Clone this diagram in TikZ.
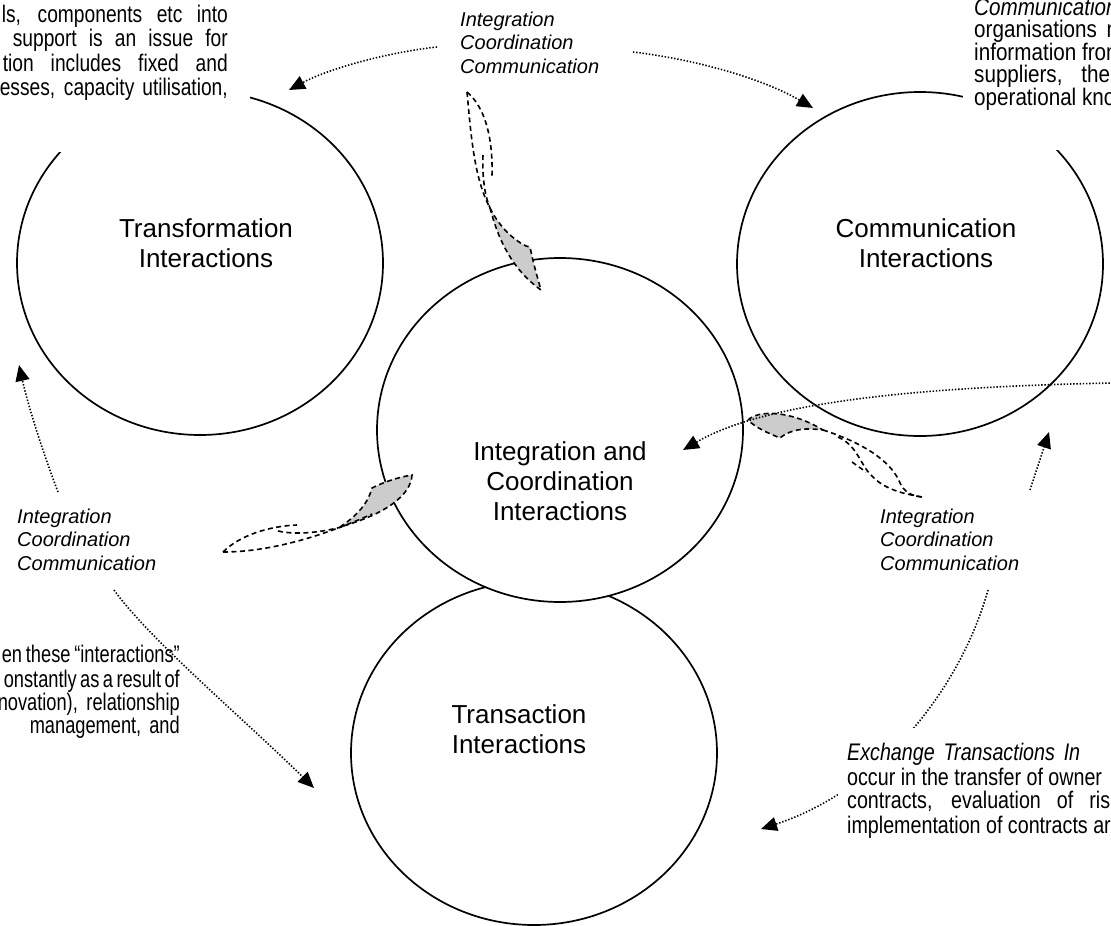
\documentclass[tikz,border=0pt]{standalone}
\usepackage{fontspec}
\setmainfont{Liberation Sans}
\newfontfamily\nfTR[FakeStretch=0.86]{Liberation Sans}
\newfontfamily\nfTL[FakeStretch=0.80]{Liberation Sans}
\newfontfamily\nfBL[FakeStretch=0.76]{Liberation Sans}
\newfontfamily\nfEX[FakeStretch=0.82]{Liberation Sans}
\usetikzlibrary{arrows.meta,shapes.geometric}
\begin{document}
\begin{tikzpicture}[x=1pt,y=-1pt,
  circ/.style={draw, ellipse, line width=1.7pt, minimum width=366pt, minimum height=344pt, inner sep=0pt},
  clab/.style={font=\fontsize{26}{30}\selectfont, align=center, inner sep=0pt, anchor=base},
  ilab/.style={font=\fontsize{20}{23.5}\selectfont\itshape, align=left, inner sep=0pt, anchor=base west},
  bodyTR/.style={font=\nfTR\fontsize{24}{24}\selectfont, inner sep=0pt, anchor=base west},
  bodyTL/.style={font=\nfTL\fontsize{24}{24}\selectfont, inner sep=0pt, anchor=base east},
  bodyBL/.style={font=\nfBL\fontsize{24}{24}\selectfont, inner sep=0pt, anchor=base east},
  bodyEX/.style={font=\nfEX\fontsize{24}{24}\selectfont, inner sep=0pt, anchor=base west},
  dots/.style={line width=1.6pt, dash pattern=on 1.4pt off 1.8pt, -{Triangle[length=16pt,width=14pt]}},
  blob/.style={draw, line width=1.6pt, dash pattern=on 5pt off 3.5pt, fill=black!20},
  bline/.style={draw, line width=1.6pt, dash pattern=on 5pt off 3.5pt},
  wbox/.style={fill=white}
]
\useasboundingbox (0,0) rectangle (1111,926);
\clip (0,0) rectangle (1111,926);

% circles
\node[circ] (transf) at (200,263) {};
\node[circ] (comm) at (920,264) {};
\node[circ] (trans) at (534,753) {};
\node[circ, fill=white] (integ) at (560,430) {};

% circle labels (anchor = baseline of last line)
\node[clab] (transfl) at (206,267) {Transformation\\Interactions};
\node[clab] (comml) at (926,267) {Communication\\Interactions};
\node[clab] (integl) at (560,520) {Integration and\\Coordination\\Interactions};
\node[clab] (transl) at (519,753) {Transaction\\Interactions};

% white text boxes at top
\path[wbox] (0,0) rectangle (250,152);
\path[wbox] (963,0) rectangle (1111,150);

% top-left paragraph
\node[bodyTL] (tl1) at (228,22) {\makebox[226pt][s]{ls, components etc into}};
\node[bodyTL] (tl2) at (228,46) {\makebox[215pt][s]{support is an issue for}};
\node[bodyTL] (tl3) at (228,71) {\makebox[225pt][s]{tion includes fixed and}};
\node[bodyTL] (tl4) at (228,95) {\makebox[228pt][s]{esses, capacity utilisation,}};

% top-right paragraph
\node[bodyTR] (tr1) at (974,15) {\itshape Communication};
\node[bodyTR] (tr2) at (974,37) {\makebox[144pt][s]{organisations n}};
\node[bodyTR] (tr3) at (974,60) {information from};
\node[bodyTR] (tr4) at (974,82) {\makebox[136pt][s]{suppliers, the}};
\node[bodyTR] (tr5) at (974,105) {operational kno};

% bottom-left paragraph
\node[bodyBL] (bl1) at (180,662) {\makebox[178pt][s]{en these “interactions”}};
\node[bodyBL] (bl2) at (180,687) {\makebox[176pt][s]{onstantly as a result of}};
\node[bodyBL] (bl3) at (180,710) {\makebox[182pt][s]{novation), relationship}};
\node[bodyBL] (bl4) at (180,733) {\makebox[150pt][s]{management, and}};

% italic labels (anchor = baseline of last line)
\node[ilab] (ltop) at (460,73) {Integration\\Coordination\\Communication};
\node[ilab] (lleft) at (17,570) {Integration\\Coordination\\Communication};
\node[ilab] (lright) at (880,570) {Integration\\Coordination\\Communication};

% dashed blobs
\path[blob] (490,208) .. controls (497,235) and (510,268) .. (541,290)
  .. controls (537,276) and (533,262) .. (530,247) -- (526,246)
  .. controls (514,240) and (500,228) .. (490,208) -- cycle;
\path[bline] (467,92) .. controls (471,135) and (474,178) .. (490,208);
\path[bline] (467,92) .. controls (486,108) and (493,140) .. (492,176);
\path[bline] (483,155) .. controls (482,178) and (485,196) .. (490,208);

\path[blob] (340,527) .. controls (358,515) and (368,503) .. (372,488)
  .. controls (386,481) and (400,477) .. (412,475)
  .. controls (411,495) and (386,514) .. (340,527) -- cycle;
\path[bline] (223,552) .. controls (240,535) and (270,526) .. (297,525);
\path[bline] (278,531) .. controls (295,535) and (320,533) .. (345,526);
\path[bline] (223,552) .. controls (260,552) and (310,542) .. (372,514);

\path[blob] (748,420) .. controls (758,410) and (790,410) .. (823,430)
  .. controls (808,428) and (792,428) .. (780,438)
  .. controls (768,433) and (756,428) .. (748,420) -- cycle;
\path[bline] (823,430) .. controls (870,445) and (893,465) .. (900,483)
  .. controls (904,492) and (912,496) .. (922,497);
\path[bline] (838,437) .. controls (858,446) and (860,465) .. (872,476)
  .. controls (885,490) and (905,494) .. (922,497);
\path[bline] (852,462) -- (866,472);

% arrow end points
\coordinate (a1s) at (437,47);  \coordinate (a1e) at (289,90);
\coordinate (a2s) at (633,52);  \coordinate (a2e) at (813,108);
\coordinate (a3s) at (58,492);  \coordinate (a3e) at (19,365);
\coordinate (a4s) at (114,590); \coordinate (a4e) at (314,788);
\coordinate (a5s) at (1030,490);\coordinate (a5e) at (1049,432);
\coordinate (a6s) at (988,590); \coordinate (a6e) at (761,829);
\coordinate (a7s) at (1113,383);\coordinate (a7e) at (683,450);

\draw[dots] (a1s) .. controls (390,52) and (330,68) .. (a1e);
\draw[dots] (a2s) .. controls (700,60) and (765,80) .. (a2e);
\draw[dots] (a3s) .. controls (42,450) and (28,405) .. (a3e);
\draw[dots] (a4s) .. controls (150,640) and (245,720) .. (a4e);
\draw[dots] (a5s) -- (a5e);
\draw[dots] (a6s) .. controls (960,690) and (880,790) .. (a6e);
\draw[dots] (a7s) .. controls (900,387) and (760,405) .. (a7e);

% exchange paragraph box
\path[wbox] (838,728) rectangle (1111,926);
\node[bodyEX] (ex1) at (847,760) {\itshape\makebox[233pt][s]{Exchange Transactions In}};
\node[bodyEX] (ex2) at (847,785) {occur in the transfer of owner};
\node[bodyEX] (ex3) at (847,808) {\makebox[263pt][s]{contracts, evaluation of ris}};
\node[bodyEX] (ex4) at (847,833) {implementation of contracts ar};
\end{tikzpicture}
\end{document}
